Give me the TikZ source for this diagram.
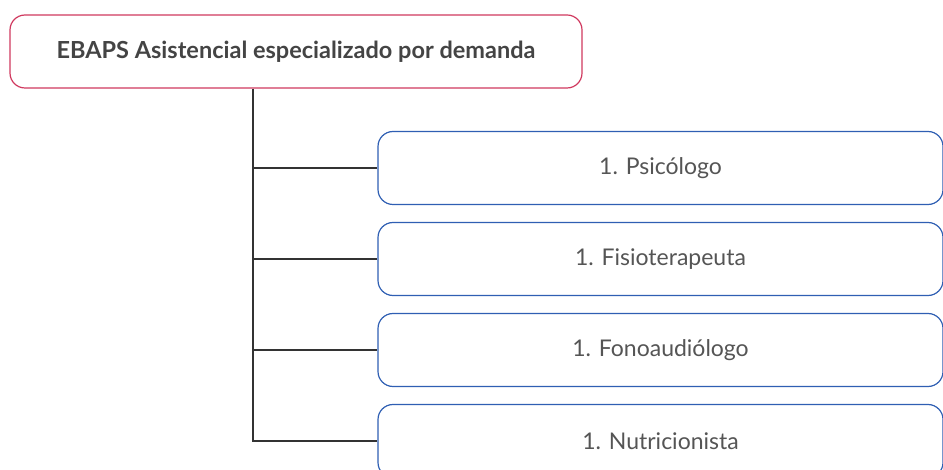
\documentclass[tikz,border=0pt]{standalone}
\usepackage{fontspec}
\setmainfont{Lato}
\definecolor{pinkb}{HTML}{D0395F}
\definecolor{blueb}{HTML}{2F5FB3}
\definecolor{txt}{HTML}{444444}
\definecolor{lbl}{HTML}{555555}
\tikzset{
  titlebox/.style={draw=pinkb, line width=1.2pt, rounded corners=15pt, fill=white,
    minimum width=572pt, minimum height=73pt, inner sep=0pt,
    font=\fontsize{23.5}{27}\selectfont\bfseries, text=txt},
  itembox/.style={draw=blueb, line width=1.2pt, rounded corners=15pt, fill=white,
    minimum width=565pt, minimum height=73pt, inner sep=0pt,
    font=\fontsize{23}{27}\selectfont, text=lbl},
  conn/.style={draw=black!80, line width=1.2pt}
}
\begin{document}
\begin{tikzpicture}[x=1pt,y=-1pt]
\useasboundingbox (0,0) rectangle (943,470);
\clip (0,0) rectangle (943,470);
\node[titlebox] (t) at (296,51.5) {EBAPS Asistencial especializado por demanda};
\node[itembox] (b1) at (660.5,168) {1. Psicólogo};
\node[itembox] (b2) at (660.5,259) {1. Fisioterapeuta};
\node[itembox] (b3) at (660.5,350) {1. Fonoaudiólogo};
\node[itembox] (b4) at (660.5,441) {1. Nutricionista};
\coordinate (v) at (253,88);
\draw[conn] (t.south -| v) -- (v |- b4.west) -- (b4.west);
\draw[conn] (v |- b1.west) -- (b1.west);
\draw[conn] (v |- b2.west) -- (b2.west);
\draw[conn] (v |- b3.west) -- (b3.west);
\end{tikzpicture}
\end{document}
